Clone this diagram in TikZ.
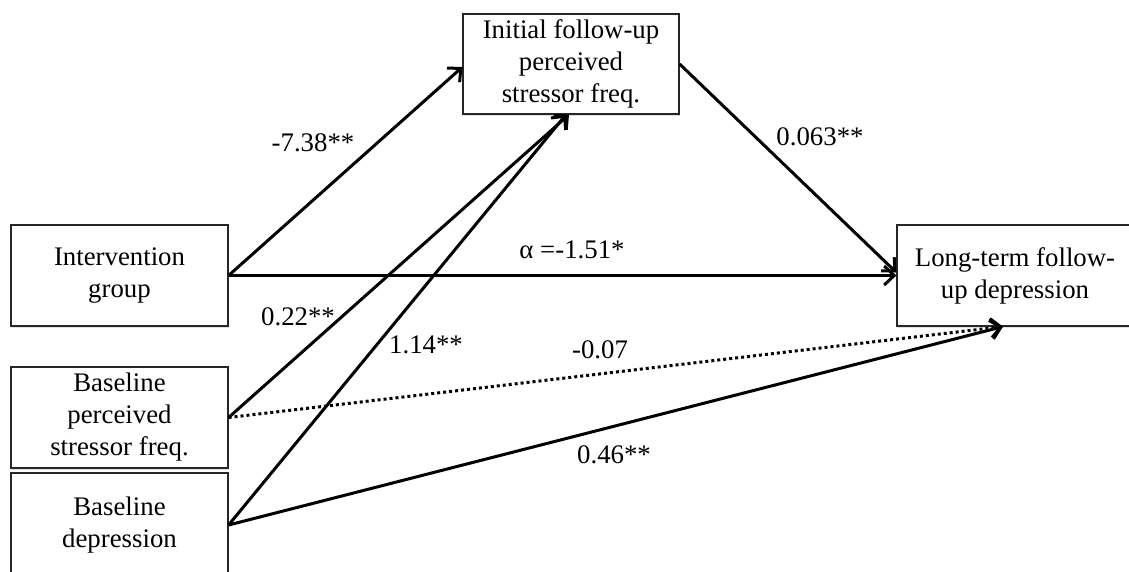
\documentclass[tikz,border=0pt]{standalone}
\usepackage{fontspec}
\setmainfont{Liberation Serif}
\usetikzlibrary{arrows.meta,shadows}
\begin{document}
\begin{tikzpicture}[x=1pt,y=-1pt,
  box/.style={draw=black!85,line width=1.2pt,fill=white,align=center,inner sep=0pt,
    font=\fontsize{26.8}{32}\selectfont,
    drop shadow={opacity=0.25,shadow xshift=1pt,shadow yshift=-2pt}},
  conn/.style={line width=3pt,-{Straight Barb[length=10pt,width=19pt,line width=3pt]}},
  dotconn/.style={conn,dash pattern=on 3pt off 3pt},
  lab/.style={font=\fontsize{26.8}{30}\selectfont,inner sep=0pt}]
\useasboundingbox (0,0) rectangle (1129,571);
\fill[white] (0,0) rectangle (1129,571);
\begin{scope}
\clip (0,0) rectangle (1129,571);
\node[box,minimum width=217pt,minimum height=101pt] (ig) at (119.5,275.5) {Intervention\\group};
\node[box,minimum width=217pt,minimum height=101pt] (bp) at (119.5,417.5) {Baseline\\perceived\\stressor freq.};
\node[box,minimum width=217pt,minimum height=104pt] (bd) at (119.5,525) {Baseline\\depression};
\node[box,minimum width=216pt,minimum height=100pt] (ini) at (571,64) {Initial follow-up\\perceived\\stressor freq.};
\node[box,minimum width=236pt,minimum height=101pt] (lt) at (1015,275.5) {Long-term follow-\\up depression};
\end{scope}
\draw[conn] (ig.east) -- ([yshift=-3pt]ini.west);
\draw[conn] (ig.east) -- (lt.west);
\draw[conn] (ini.east) -- ([yshift=3pt]lt.west);
\draw[conn] (bp.east) -- ([xshift=-2pt]ini.south);
\draw[conn] (bd.east) -- ([xshift=-5pt]ini.south);
\draw[dotconn] (bp.east) -- ([xshift=-12pt]lt.south);
\draw[conn] (bd.east) -- ([xshift=-12pt]lt.south);
\node[lab] (l1) at (313,143) {-7.38**};
\node[lab] (l2) at (820,137) {0.063**};
\node[lab] (l3) at (572,250) {α =-1.51*};
\node[lab] (l4) at (298,317) {0.22**};
\node[lab] (l5) at (426,345) {1.14**};
\node[lab] (l6) at (600,350) {-0.07};
\node[lab] (l7) at (614,455) {0.46**};
\end{tikzpicture}
\end{document}
